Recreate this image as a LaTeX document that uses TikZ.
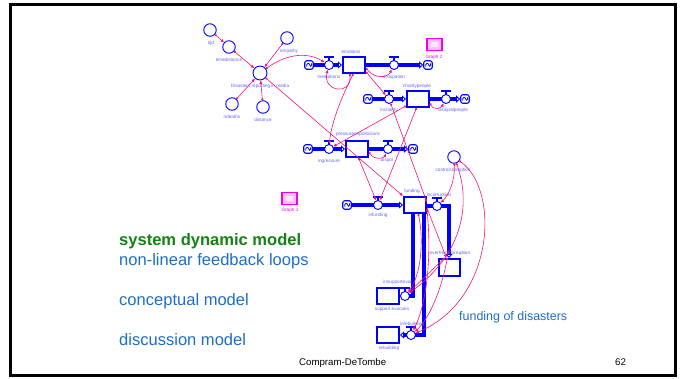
\documentclass[tikz,border=0pt]{standalone}
\usepackage{fontspec}
\setmainfont{Liberation Sans}
\usetikzlibrary{arrows.meta,calc}
\definecolor{sdblue}{RGB}{0,0,255}
\definecolor{lbl}{RGB}{100,100,250}
\definecolor{lnk}{RGB}{245,20,120}
\definecolor{grf}{RGB}{240,0,240}
\definecolor{hdgreen}{RGB}{20,130,20}
\definecolor{txtblue}{RGB}{30,110,200}
\pgfdeclarelayer{bg}
\pgfdeclarelayer{pipes}
\pgfsetlayers{bg,pipes,main}
\tikzset{
  conv/.style={circle,draw=sdblue,line width=0.9bp,fill=white,minimum size=12.5bp,inner sep=0},
  stock/.style={rectangle,draw=sdblue,line width=2bp,fill=white,minimum width=22bp,minimum height=16bp,inner sep=0},
  vcirc/.style={circle,draw=sdblue,line width=0.9bp,fill=white,minimum size=9bp,inner sep=0},
  sinkbox/.style={rectangle,rounded corners=2.2bp,draw=sdblue,line width=1.1bp,fill=white,minimum size=8.5bp,inner sep=0},
  lab/.style={text=lbl,font=\fontsize{4.7}{5}\selectfont,inner sep=0},
  glab/.style={text=grf,font=\fontsize{4.7}{5}\selectfont,inner sep=0},
  graphbox/.style={rectangle,draw=grf,line width=1.8bp,fill=grf!25,minimum width=15bp,minimum height=12bp,inner sep=0},
  pipe/.style={draw=sdblue,line width=3.3bp},
  pipein/.style={pipe,-{Triangle[length=4bp,width=7bp,open,fill=white,line width=0.9bp]}},
  link/.style={draw=lnk,line width=0.6bp,{Circle[length=2.2bp]}-{Latex[length=3.4bp,width=3.2bp]}},
  bigtext/.style={anchor=base west,inner sep=0,font=\fontsize{16.6}{18}\selectfont},
  foot/.style={anchor=base west,inner sep=0,font=\fontsize{9.7}{11}\selectfont,text=black},
  valve/.pic={
    \node[vcirc] (-v) at (0,0) {};
    \fill[sdblue] (-5,-8.8) rectangle (5,-6.6);
    \fill[sdblue] (-0.8,-6.6) rectangle (0.8,-4.5);
  },
  srcsink/.pic={
    \node[sinkbox] (-b) at (0,0) {};
    \draw[sdblue,line width=0.8bp] (-2.3,1.6) .. controls (-2.9,-1.6) and (0.4,-3) .. (0.5,-0.2)
      .. controls (0.6,2.3) and (2.9,1.6) .. (2.5,-1.7);
  }
}
\begin{document}
\begin{tikzpicture}[x=1bp,y=-1bp]
\useasboundingbox (0,0) rectangle (683,378);
\begin{pgfonlayer}{bg}
  \fill[white] (0,0) rectangle (683,378);
\end{pgfonlayer}
% slide frame
\draw[line width=3bp] (10.5,4.5) rectangle (675,375.5);

% ---------- media cluster ----------
\node[conv] (tijd) at (210,30) {};
\node[conv] (timedistance) at (229,47) {};
\node[conv] (empathy) at (287,38) {};
\node[conv,minimum size=14bp] (media) at (260,73) {};
\node[conv] (ndeaths) at (232,104) {};
\node[conv] (distance) at (263,107) {};
\node[conv] (controlcorruption) at (454,157) {};

\node[lab] (l-tijd) at (211,43) {tijd};
\node[lab] (l-timedistance) at (229,59.5) {timedistance};
\node[lab] (l-empathy) at (289,51) {empathy};
\node[lab] (l-media) at (260,86) {Disasters reporting in media};
\node[lab] (l-ndeaths) at (232,117) {ndeaths};
\node[lab] (l-distance) at (263,119.5) {distance};
\node[lab] (l-controlcorruption) at (453,170) {controlcorruption};

% ---------- stocks ----------
\node[stock] (emotions) at (354,65) {};
\node[stock] (charitypeople) at (418,99) {};
\node[stock] (pressure) at (357,149) {};
\node[stock] (funding) at (415,205) {};
\node[stock,minimum width=21bp,minimum height=17bp] (overheadcorruption) at (449,267.5) {};
\node[stock] (supportevacues) at (388,296) {};
\node[stock] (rebuilding) at (388,335) {};

\node[lab] (l-emotions) at (351,52) {emotions};
\node[lab] (l-charitypeople) at (417,86) {charitypeople};
\node[lab] (l-pressure) at (358,134) {pressureonpoliticians};
\node[lab] (l-funding) at (412,191.5) {funding};
\node[lab] (l-overheadcorruption) at (450,253) {overheadcorruption};
\node[lab] (l-supportevacues) at (392,309) {support evacues};
\node[lab] (l-rebuilding) at (389,348) {rebuilding};

% ---------- sources and sinks ----------
\pic (c1) at (309,65) {srcsink};
\pic (c2) at (428,65) {srcsink};
\pic (c3) at (368,99) {srcsink};
\pic (c4) at (465,99) {srcsink};
\pic (c5) at (308,149) {srcsink};
\pic (c6) at (413,149) {srcsink};
\pic (c7) at (347,205) {srcsink};

% ---------- flow valves ----------
\pic (inemotions) at (329,65) {valve};
\pic (dissipation) at (394,65) {valve};
\pic (incharity) at (389,99) {valve};
\pic (dissipatpeople) at (446,99) {valve};
\pic (ingressure) at (329,149) {valve};
\pic (dispol) at (388,149) {valve};
\pic (infunding) at (378,205) {valve};
\pic (incorruption) at (437,206) {valve};
\pic (insupportevac) at (405,296) {valve};
\pic (inrebuilding) at (411,335) {valve};

\node[lab] (l-inemotions) at (329,76.5) {inemotions};
\node[lab] (l-dissipation) at (394,77) {dissipation};
\node[lab] (l-incharity) at (389,110.5) {incharity};
\node[lab] (l-dissipatpeople) at (453,110.5) {dissipatpeople};
\node[lab] (l-ingressure) at (329,161.5) {ingressure};
\node[lab] (l-dispol) at (387,160.5) {dispol};
\node[lab] (l-infunding) at (378,215.5) {infunding};
\node[lab] (l-incorruption) at (439,195.5) {incorruption};
\node[lab] (l-insupportevac) at (398,282) {insupportevac};
\node[lab] (l-inrebuilding) at (412,324) {inrebuilding};

% ---------- pipes ----------
\coordinate (bendA) at (449,206);
\coordinate (bendB) at (413,296);
\coordinate (bendC) at (424,335);
\begin{pgfonlayer}{pipes}
  \draw[pipein] (c1-b) -- (emotions);
  \draw[pipein] (emotions) -- (c2-b);
  \draw[pipein] (c3-b) -- (charitypeople);
  \draw[pipein] (charitypeople) -- (c4-b);
  \draw[pipein] (c5-b) -- (pressure);
  \draw[pipein] (pressure) -- (c6-b);
  \draw[pipein] (c7-b) -- (funding);
  \draw[pipein] (funding.east |- incorruption-v) -- (bendA) -- (overheadcorruption.north -| bendA);
  \draw[pipein] (funding.south -| bendB) -- (bendB) -- (supportevacues.east);
  \draw[pipein] (funding.south -| bendC) -- (bendC) -- (rebuilding.east);
\end{pgfonlayer}

% ---------- graph windows ----------
\node[graphbox] (graph2) at (434.5,44.5) {};
\node[fill=white,opacity=0.7,minimum width=7bp,minimum height=5bp,inner sep=0] (graph2in) at (434.5,44.5) {};
\node[glab] (l-graph2) at (434,57) {Graph 2};
\node[graphbox] (graph1) at (289.5,198.5) {};
\node[fill=white,opacity=0.7,minimum width=7bp,minimum height=5bp,inner sep=0] (graph1in) at (289.5,198.5) {};
\node[glab] (l-graph1) at (290,210) {Graph 1};

% ---------- links ----------
\draw[link] (tijd) -- (timedistance);
\draw[link] (timedistance) -- (media);
\draw[link] (empathy) -- (media);
\draw[link] (ndeaths) -- (media);
\draw[link] (distance) -- (media);
\draw[link] (media) -- (funding.north west);
\draw[link] (media) .. controls (285,55) and (306,51) .. (inemotions-v);

\draw[link] (emotions.-115) .. controls (352,96) and (322,92) .. (inemotions-v);
\draw[link] (emotions.-95) .. controls (340,100) and (331,125) .. (ingressure-v);
\draw[link] (emotions.-15) .. controls (376,80) and (388,77) .. (dissipation-v);
\draw[link] (emotions.-30) -- (incharity-v);

\draw[link] (charitypeople.-20) .. controls (434,111) and (441,108) .. (dissipatpeople-v);
\draw[link] (charitypeople.-150) -- (ingressure-v);
\draw[link] (charitypeople.-100) -- (infunding-v);
\draw[link] (incharity-v) -- (funding.12);

\draw[link] (pressure.-80) -- (infunding-v);
\draw[link] (pressure.-15) .. controls (375,161) and (384,158) .. (dispol-v);

\draw[link] (controlcorruption) .. controls (455,182) and (448,196) .. (incorruption-v);
\draw[link] (controlcorruption) .. controls (470,200) and (466,252) .. (insupportevac-v);
\draw[link] (controlcorruption) .. controls (500,190) and (495,300) .. (inrebuilding-v);

\draw[link] (funding.-70) .. controls (424,240) and (421,275) .. (insupportevac-v);
\draw[link] (funding.-15) -- (overheadcorruption.105);
\draw[link] (funding.-22) .. controls (432,260) and (426,305) .. (inrebuilding-v);
\draw[link] (overheadcorruption.115) -- (insupportevac-v);
\draw[link] (overheadcorruption.100) .. controls (441,292) and (428,320) .. (inrebuilding-v);

% ---------- slide text ----------
\node[bigtext,text=hdgreen,font=\fontsize{16.6}{18}\selectfont\bfseries] (t-sdm) at (119,245) {system dynamic model};
\node[bigtext,text=txtblue] (t-loops) at (119,265) {non-linear feedback loops};
\node[bigtext,text=txtblue] (t-concept) at (119,305) {conceptual model};
\node[bigtext,text=txtblue] (t-discuss) at (119,345) {discussion model};
\node[anchor=base west,inner sep=0,text=txtblue,font=\fontsize{12.5}{14}\selectfont] (t-funding) at (459,320.5) {funding of disasters};
\node[foot] (t-author) at (299,365) {Compram-DeTombe};
\node[foot] (t-page) at (615,365) {62};
\end{tikzpicture}
\end{document}
